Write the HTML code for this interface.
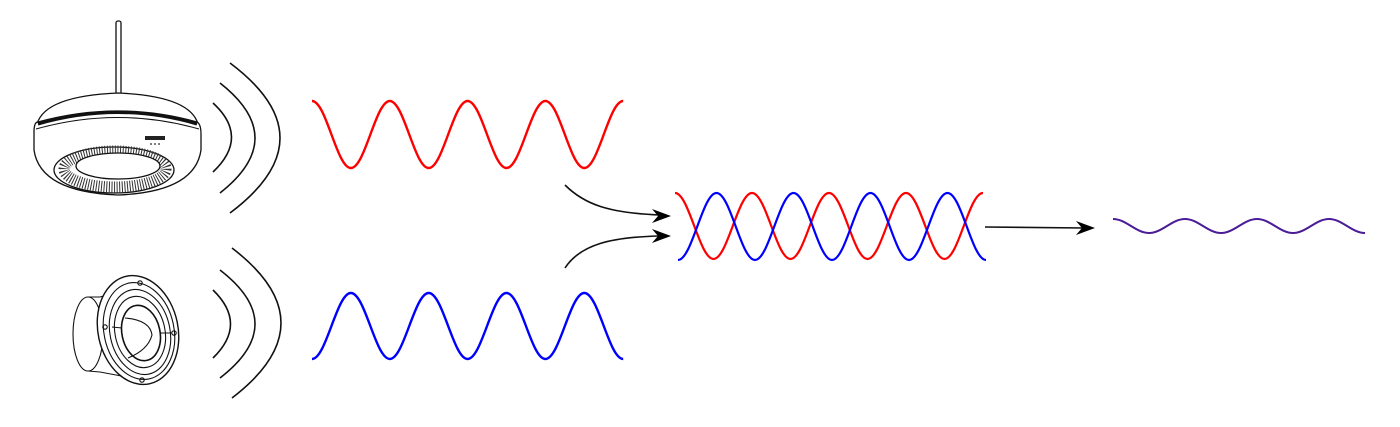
<!DOCTYPE html>
<html><head><meta charset="utf-8"><style>
html,body{margin:0;padding:0;background:#fff;}
svg{display:block;}
</style></head><body>
<svg width="1400" height="427" viewBox="0 0 1400 427" xmlns="http://www.w3.org/2000/svg">
<rect width="1400" height="427" fill="#fff"/>
<!-- device -->
<g fill="none" stroke="#111" stroke-width="1.3">
  <rect x="116" y="21" width="5" height="74" rx="2" fill="#fff"/>
  <path d="M37,124 Q45,96 118,93 Q190,96 198,124" fill="#fff"/>
  <path d="M34,132 Q34,122 38,122 Q118,100 197,122 Q201,124 201,134 L201,150 Q195,192 118,195 Q40,192 34,150 Z" fill="#fff"/>
  <path d="M38,124 Q118,101 197,124" stroke-width="3"/>
  <path d="M36,129 Q118,106 199,129" stroke-width="1"/>
  <ellipse cx="114" cy="170" rx="60" ry="23" fill="#fff"/>
  <ellipse cx="115" cy="169" rx="51" ry="18" stroke="#333" stroke-width="11" stroke-dasharray="1 1.6"/>
  <ellipse cx="118" cy="166" rx="42" ry="13" fill="#fff"/>
  <rect x="145" y="136" width="20" height="4" fill="#222" stroke="none"/>
  <circle cx="151" cy="144" r="0.9" fill="#222" stroke="none"/>
  <circle cx="155" cy="144" r="0.9" fill="#222" stroke="none"/>
  <circle cx="159" cy="144" r="0.9" fill="#222" stroke="none"/>
</g>
<!-- device arcs -->
<g fill="none" stroke="#111" stroke-width="1.6">
  <path d="M213,103 Q250,137 213,172"/>
  <path d="M220,83 Q290,138 220,193"/>
  <path d="M230,63 Q330,138 230,213"/>
</g>
<!-- speaker -->
<g fill="none" stroke="#111" stroke-width="1.1">
  <path d="M100,297 L132,288 L132,378 L100,372" fill="#fff"/>
  <ellipse cx="88" cy="334" rx="15" ry="37" fill="#fff"/>
  <path d="M88,297 L100,297 M88,371 L100,372"/>
  <ellipse cx="138" cy="330" rx="40" ry="55" transform="rotate(-12 138 330)" fill="#fff" stroke-width="1.4"/>
  <ellipse cx="139" cy="331" rx="35" ry="49" transform="rotate(-12 139 331)"/>
  <ellipse cx="140" cy="332" rx="30" ry="43" transform="rotate(-12 140 332)"/>
  <ellipse cx="140" cy="332" rx="25" ry="36" transform="rotate(-12 140 332)"/>
  <ellipse cx="141" cy="333" rx="19" ry="28" transform="rotate(-12 141 333)" stroke-width="1.6"/>
  <path d="M125,318 Q150,320 152,335 Q148,350 128,358"/>
  <path d="M112,327 L122,328 M160,333 L172,333"/>
  <circle cx="140" cy="283" r="2.2"/><circle cx="105" cy="327" r="2.2"/>
  <circle cx="174" cy="333" r="2.2"/><circle cx="142" cy="380" r="2.2"/>
</g>
<g fill="none" stroke="#111" stroke-width="1.6">
  <path d="M213,290 Q248,324 213,358"/>
  <path d="M220,270 Q290,324 220,378"/>
  <path d="M232,248 Q330,323 232,398"/>
</g>
<!-- waves -->
<path d="M312,101 C326.2,101 336.7,168 350.9,168 S375.6,101 389.8,101 S414.5,168 428.7,168 S453.4,101 467.6,101 S492.3,168 506.5,168 S531.2,101 545.4,101 S570.1,168 584.3,168 S609,101 623.2,101" fill="none" stroke="#f00" stroke-width="2.4"/>
<path d="M312,359 C326.2,359 336.7,293 350.9,293 S375.6,359 389.8,359 S414.5,293 428.7,293 S453.4,359 467.6,359 S492.3,293 506.5,293 S531.2,359 545.4,359 S570.1,293 584.3,293 S609,359 623.2,359" fill="none" stroke="#00f" stroke-width="2.4"/>
<path d="M675,193 C689,193 699.5,259 713.5,259 S738,193 752,193 S776.5,259 790.5,259 S815,193 829,193 S853.5,259 867.5,259 S892,193 906,193 S930.5,259 944.5,259 S969,193 983,193" fill="none" stroke="#f00" stroke-width="2.2"/>
<path d="M678,260 C692,260 702.5,193 716.5,193 S741,260 755,260 S779.5,193 793.5,193 S818,260 832,260 S856.5,193 870.5,193 S895,260 909,260 S933.5,193 947.5,193 S972,260 986,260" fill="none" stroke="#00f" stroke-width="2.2"/>
<path d="M1113,219 C1126.1,219 1135.9,233 1149,233 S1171.9,219 1185,219 S1207.9,233 1221,233 S1243.9,219 1257,219 S1279.9,233 1293,233 S1315.9,219 1329,219 S1351.9,233 1365,233" fill="none" stroke="#4a1c98" stroke-width="2"/>
<!-- arrows -->
<g fill="#000" stroke="none">
  <path d="M565,185 C585,205 610,213 660,215" fill="none" stroke="#111" stroke-width="1.6"/>
  <path d="M671,216 L652,209 L658,216 L652,223 Z"/>
  <path d="M565,268 C580,245 610,237 660,236" fill="none" stroke="#111" stroke-width="1.6"/>
  <path d="M671,236 L652,229 L658,236 L652,243 Z"/>
  <path d="M985,227 L1085,228" fill="none" stroke="#111" stroke-width="1.6"/>
  <path d="M1095,228 L1076,221 L1082,228 L1076,235 Z"/>
</g>
</svg>
</body></html>
